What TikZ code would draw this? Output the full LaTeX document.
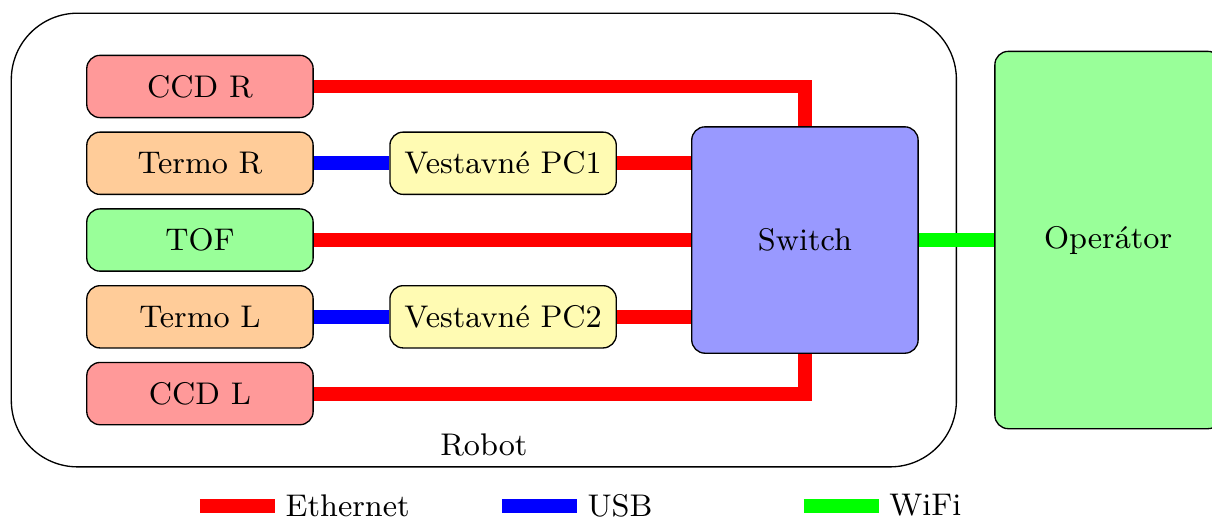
\documentclass[tikz,border=0pt]{standalone}
\usepackage{fontspec}
\usetikzlibrary{positioning}

\begin{document}
\begin{tikzpicture}[
        font=\fontsize{9.45pt}{11pt}\selectfont,
        node distance=0.14cm and 0.8cm,
        box/.style={draw, rounded corners=4pt, minimum width=2.4cm,
                    minimum height=0.66cm},
        ccd/.style={box, fill=red!40},
        termo/.style={box, fill=orange!40},
        tofbox/.style={box, fill=green!40},
        pc/.style={box, fill=yellow!30},
        sw/.style={box, fill=blue!40, minimum height=2.4cm},
        oper/.style={box, fill=green!40, minimum height=4cm},
        eth/.style={red, line width=4.2pt},
        usb/.style={blue, line width=4.2pt},
        wifi/.style={green, line width=4.2pt},
        legtext/.style={right, text=black, inner xsep=1pt},
    ]
    \useasboundingbox (-2.12,-2.95) rectangle (10.73,2.545);

    % --- Robot ---
    \node[draw, rounded corners=20pt, minimum width=10.02cm,
          minimum height=4.81cm] (robot) at (3.01,0) {};
    \node[above] (robotlbl) at (robot.south) {Robot};

    % --- Senzory ---
    \node[tofbox] (tof) at (0,0) {TOF};
    \node[termo, above=of tof] (termor) {Termo R};
    \node[ccd, above=of termor] (ccdr) {CCD R};
    \node[termo, below=of tof] (termol) {Termo L};
    \node[ccd, below=of termol] (ccdl) {CCD L};

    % --- PC a switch ---
    \node[pc, right=of termor] (pc1) {Vestavné PC1};
    \node[pc, right=of termol] (pc2) {Vestavné PC2};
    \node[sw, right=4.0cm of tof] (switch) {Switch};
    \node[oper, right=of switch] (oper) {Operátor};

    % --- Spoje ---
    \draw[eth] (ccdr) -| (switch);
    \draw[eth] (ccdl) -| (switch);
    \draw[eth] (tof) -- (switch);
    \draw[usb] (termor) -- (pc1);
    \draw[usb] (termol) -- (pc2);
    \draw[eth] (pc1.east) -- (pc1.east -| switch.west);
    \draw[eth] (pc2.east) -- (pc2.east -| switch.west);
    \draw[wifi] (switch) -- (oper);

    % --- Legenda ---
    \coordinate (leg) at (0,-2.815);
    \draw[eth] (leg) -- ++(0.8,0) node[legtext] (legeth) {Ethernet};
    \draw[usb] ([xshift=3.2cm]leg) -- ++(0.8,0) node[legtext] (legusb) {USB};
    \draw[wifi] ([xshift=6.4cm]leg) -- ++(0.8,0) node[legtext] (legwifi) {WiFi};
\end{tikzpicture}
\end{document}
